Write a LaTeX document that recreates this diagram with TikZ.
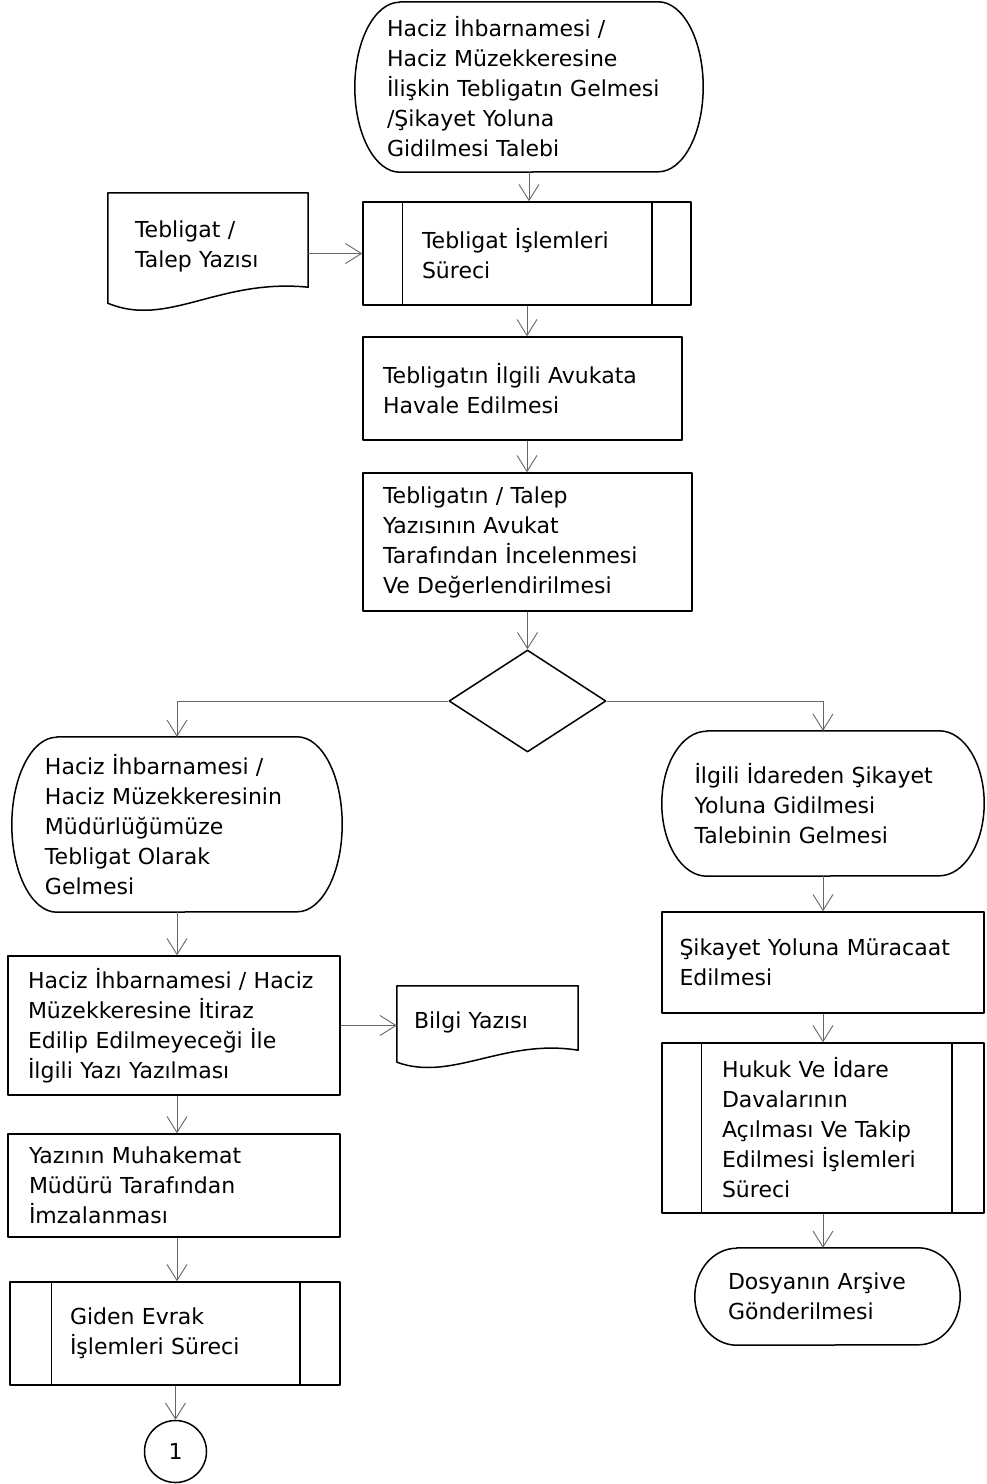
\documentclass[tikz,border=0pt]{standalone}
\usepackage{fontspec}
\setmainfont{DejaVu Sans}
\usetikzlibrary{arrows.meta,shapes.geometric}
\newcommand\termpath[3]{%
  \draw[outl] ([xshift=#2]#1.north west) -- ([xshift=-#2]#1.north east)
    arc[start angle=90,end angle=-90,x radius=#2,y radius=#3]
    -- ([xshift=#2]#1.south west)
    arc[start angle=270,end angle=90,x radius=#2,y radius=#3] -- cycle;}
\newcommand\predefl[3]{%
  \draw[outl] ([xshift=#2]#1.north west) -- ([xshift=#2]#1.south west)
    ([xshift=-#3]#1.north east) -- ([xshift=-#3]#1.south east);}
\begin{document}
\begin{tikzpicture}[x=1pt,y=1pt,
  outl/.style={draw=black, line width=1.5pt, line join=round},
  base/.style={rectangle, inner sep=0pt, align=left, font=\fontsize{22pt}{30pt}\selectfont, text=black},
  boxed/.style={base, outl},
  conn/.style={draw=black!60, line width=0.9pt, -{Straight Barb[length=16pt,width=20pt]}},
]
\fill[white] (0,0) rectangle (986,-1484);
\useasboundingbox (0,0) rectangle (986,-1484);

% central column
\node[base, minimum width=348pt, minimum height=170pt, text width=284pt] (S) at (529,-87)
  {Haciz İhbarnamesi /\\Haciz Müzekkeresine\\İlişkin Tebligatın Gelmesi\\/Şikayet Yoluna\\Gidilmesi Talebi};
\termpath{S}{45pt}{85pt}

\node[base, minimum width=200pt, minimum height=107pt, text width=146pt] (D1) at (208,-246.5)
  {Tebligat /\\Talep Yazısı};
\draw[outl] (D1.north west) -- ([yshift=-3pt]D1.south west)
  .. controls ([xshift=60pt,yshift=-28pt]D1.south west) and ([xshift=-90pt,yshift=22pt]D1.south east)
  .. ([yshift=13pt]D1.south east) -- (D1.north east) -- cycle;

\node[boxed, minimum width=328pt, minimum height=103pt, text width=210pt] (T1) at (527,-253.5)
  {Tebligat İşlemleri\\Süreci};
\predefl{T1}{40pt}{40pt}

\node[boxed, minimum width=319pt, minimum height=103pt, text width=279pt] (B1) at (522.5,-388.5)
  {Tebligatın İlgili Avukata\\Havale Edilmesi};

\node[boxed, minimum width=329pt, minimum height=138pt, text width=289pt] (B2) at (527.5,-542)
  {Tebligatın / Talep\\Yazısının Avukat\\Tarafından İncelenmesi\\Ve Değerlendirilmesi};

\node[diamond, outl, minimum width=157pt, minimum height=102pt, inner sep=0pt] (dia) at (527.5,-701) {};

% left column
\node[base, minimum width=330pt, minimum height=175pt, text width=264pt] (L1) at (177,-824.5)
  {Haciz İhbarnamesi /\\Haciz Müzekkeresinin\\Müdürlüğümüze\\Tebligat Olarak\\Gelmesi};
\termpath{L1}{45pt}{87.5pt}

\node[boxed, minimum width=332pt, minimum height=139pt, text width=292pt] (L2) at (174,-1025.5)
  {Haciz İhbarnamesi / Haciz\\Müzekkeresine İtiraz\\Edilip Edilmeyeceği İle\\İlgili Yazı Yazılması};

\node[base, minimum width=181pt, minimum height=72pt, text width=147pt] (Bilgi) at (487.5,-1022)
  {Bilgi Yazısı};
\draw[outl] (Bilgi.north west) -- ([yshift=-4pt]Bilgi.south west)
  .. controls ([xshift=55pt,yshift=-24pt]Bilgi.south west) and ([xshift=-75pt,yshift=20pt]Bilgi.south east)
  .. ([yshift=8pt]Bilgi.south east) -- (Bilgi.north east) -- cycle;

\node[boxed, minimum width=332pt, minimum height=103pt, text width=290pt] (L3) at (174,-1185.5)
  {Yazının Muhakemat\\Müdürü Tarafından\\İmzalanması};

\node[boxed, minimum width=330pt, minimum height=103pt, text width=210pt] (L4) at (175,-1333.5)
  {Giden Evrak\\İşlemleri Süreci};
\predefl{L4}{42pt}{41pt}

\node[circle, outl, minimum size=62pt, inner sep=0pt, font=\fontsize{22pt}{30pt}\selectfont] (C1) at (175.5,-1451.5) {1};

% right column
\node[base, minimum width=322pt, minimum height=145pt, text width=257pt] (R1) at (823,-803.5)
  {İlgili İdareden Şikayet\\Yoluna Gidilmesi\\Talebinin Gelmesi};
\termpath{R1}{45pt}{72.5pt}

\node[boxed, minimum width=322pt, minimum height=101pt, text width=287pt] (R2) at (823,-962.5)
  {Şikayet Yoluna Müracaat\\Edilmesi};

\node[boxed, minimum width=322pt, minimum height=170pt, text width=202pt] (R3) at (823,-1128)
  {Hukuk Ve İdare\\Davalarının\\Açılması Ve Takip\\Edilmesi İşlemleri\\Süreci};
\predefl{R3}{40pt}{33pt}

\node[base, minimum width=265pt, minimum height=97pt, text width=199pt] (R4) at (827.5,-1296.5)
  {Dosyanın Arşive\\Gönderilmesi};
\termpath{R4}{42pt}{48.5pt}

% connectors
\draw[conn] (S.south) -- (S.south |- T1.north);
\draw[conn] (D1.east |- T1.west) -- (T1.west);
\draw[conn] (T1.south) -- (T1.south |- B1.north);
\draw[conn] (T1.south |- B1.south) -- (T1.south |- B2.north);
\draw[conn] (B2.south) -- (dia.north);
\draw[conn] (dia.west) -| (L1.north);
\draw[conn] (dia.east) -| (R1.north);
\draw[conn] (L1.south) -- (L1.south |- L2.north);
\draw[conn] (L2.east) -- (L2.east -| Bilgi.west);
\draw[conn] (L1.south |- L2.south) -- (L1.south |- L3.north);
\draw[conn] (L1.south |- L3.south) -- (L1.south |- L4.north);
\draw[conn] (C1.north |- L4.south) -- (C1.north);
\draw[conn] (R1.south) -- (R1.south |- R2.north);
\draw[conn] (R1.south |- R2.south) -- (R1.south |- R3.north);
\draw[conn] (R1.south |- R3.south) -- (R1.south |- R4.north);
\end{tikzpicture}
\end{document}
